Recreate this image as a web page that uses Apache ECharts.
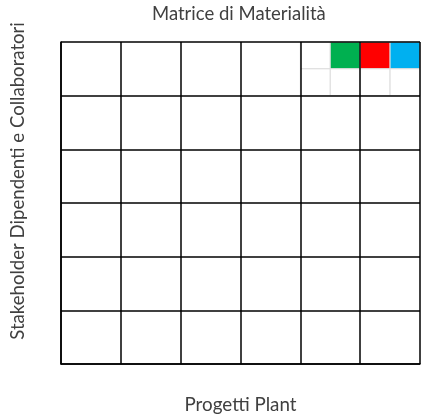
<!DOCTYPE html>
<html>
<head>
<meta charset="utf-8">
<script src="https://cdn.jsdelivr.net/npm/echarts@6/dist/echarts.min.js"></script>
<style>html,body{margin:0;padding:0;background:#fff}#c{width:421px;height:419px}</style>
</head>
<body>
<div id="c"></div>
<script>
const titleText = 'Matrice di Materialità';
const xName = 'Progetti Plant';
const yName = 'Stakeholder Dipendenti e Collaboratori';
// fine grid (12 x 12), major cells every 2 units
const cellX = [8, 9, 10, 11, 8, 9, 10, 11];
const cellY = [11, 11, 11, 11, 10, 10, 10, 10];
const cellColors = ['#ffffff', '#00b050', '#ff0000', '#00b0f0', '#ffffff', '#ffffff', '#ffffff', '#ffffff'];

const data = cellX.map((x, i) => ({ value: [x, cellY[i]], itemStyle: { color: cellColors[i] } }));
const font = 'Lato';
const chart = echarts.init(document.getElementById('c'), null, { renderer: 'canvas' });
const axisCommon = {
  type: 'value', min: 0, max: 12, interval: 2, z: 5,
  nameLocation: 'middle',
  axisLabel: { show: false }, axisTick: { show: false },
  axisLine: { show: true, lineStyle: { color: '#000', width: 1.5 } },
  splitLine: { show: true, lineStyle: { color: '#000', width: 1.5 } }
};
chart.setOption({
  animation: false,
  title: { text: titleText, left: 152, top: 5, padding: 0,
    textStyle: { color: '#404040', fontFamily: font, fontSize: 18.5, fontWeight: 'normal' } },
  grid: { left: 61, right: 1, top: 42, bottom: 53 },
  xAxis: Object.assign({}, axisCommon, { name: xName, nameGap: 31,
    nameTextStyle: { color: '#404040', fontFamily: font, fontSize: 18.8 } }),
  yAxis: Object.assign({}, axisCommon, { name: yName, nameGap: 34,
    nameTextStyle: { color: '#404040', fontFamily: font, fontSize: 18.6, padding: [0, 0, 0, 44] } }),
  series: [{
    type: 'custom',
    data: data,
    renderItem: function (params, api) {
      const x = api.value(0), y = api.value(1);
      const p0 = api.coord([x, y]);
      const p1 = api.coord([x + 1, y + 1]);
      return {
        type: 'rect',
        shape: { x: p0[0], y: p1[1], width: p1[0] - p0[0], height: p0[1] - p1[1] },
        style: { fill: api.visual('color'), stroke: '#dcdcdc', lineWidth: 1 }
      };
    }
  }]
});
</script>
</body>
</html>
